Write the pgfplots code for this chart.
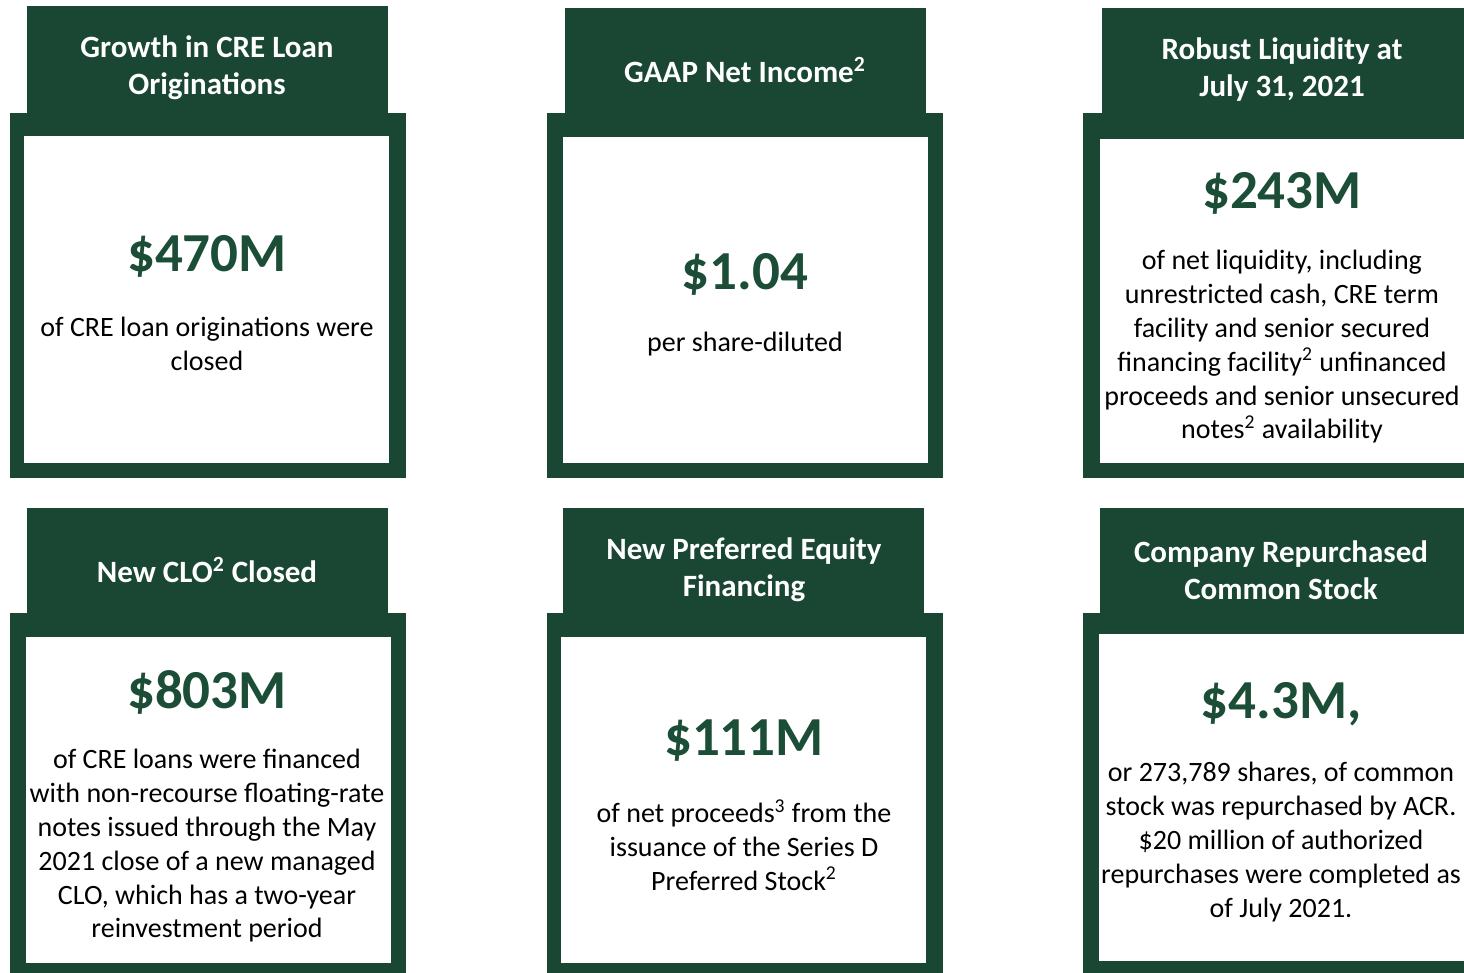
\documentclass[border=0pt]{standalone}
\usepackage{pgfplots}
\pgfplotsset{compat=1.18}
\usepackage{fontspec}
\setmainfont{Carlito}
\definecolor{acrgreen}{RGB}{25,71,51}
\definecolor{numgreen}{RGB}{28,78,55}

\begin{document}
\begin{tikzpicture}
\begin{axis}[
  scale only axis,
  width=732pt, height=486.5pt,
  xmin=0, xmax=1464, ymin=0, ymax=973,
  y dir=reverse,
  hide axis, clip=false,
]
\path (axis cs:0,0) rectangle (axis cs:1464,973);

% header tabs
\fill[acrgreen] (axis cs:27,6)    rectangle (axis cs:388,114);
\fill[acrgreen] (axis cs:565,8)   rectangle (axis cs:926,114);
\fill[acrgreen] (axis cs:1102,8)  rectangle (axis cs:1464,114);
\fill[acrgreen] (axis cs:27,508)  rectangle (axis cs:388,614);
\fill[acrgreen] (axis cs:563,508) rectangle (axis cs:924,614);
\fill[acrgreen] (axis cs:1100,508) rectangle (axis cs:1464,614);
% frames
\fill[acrgreen] (axis cs:10,113)   rectangle (axis cs:406,478);
\fill[acrgreen] (axis cs:547,113)  rectangle (axis cs:943,478);
\fill[acrgreen] (axis cs:1083,113) rectangle (axis cs:1464,478);
\fill[acrgreen] (axis cs:10,613)   rectangle (axis cs:406,973);
\fill[acrgreen] (axis cs:547,613)  rectangle (axis cs:943,973);
\fill[acrgreen] (axis cs:1083,613) rectangle (axis cs:1464,973);
% white panels
\fill[white] (axis cs:24,136)   rectangle (axis cs:389,463);
\fill[white] (axis cs:563,137)  rectangle (axis cs:928,463);
\fill[white] (axis cs:1100,139) rectangle (axis cs:1464,463);
\fill[white] (axis cs:26,637)   rectangle (axis cs:391,963);
\fill[white] (axis cs:561,637)  rectangle (axis cs:926,963);
\fill[white] (axis cs:1099,634) rectangle (axis cs:1464,961);

\tikzset{
  hdr/.style={text=white, font=\fontsize{15.5}{18.5}\selectfont\bfseries, align=center, inner sep=0pt},
  big/.style={text=numgreen, font=\fontsize{27.5}{32}\selectfont\bfseries, inner sep=0pt},
  body/.style={text=black, font=\fontsize{14}{16.9}\selectfont, align=center, inner sep=0pt},
}

% card 1
\node[hdr] at (axis cs:207,68) {Growth in CRE Loan\\Originations};
\node[big] at (axis cs:207,256) {\$470M};
\node[body] at (axis cs:207,344) {of CRE loan originations were\\closed};
% card 2
\node[hdr] at (axis cs:745,70) {GAAP Net Income\textsuperscript{2}};
\node[big] at (axis cs:745,274) {\$1.04};
\node[body] at (axis cs:745,344) {per share-diluted};
% card 3
\node[hdr] at (axis cs:1282,70) {Robust Liquidity at\\July 31, 2021};
\node[big] at (axis cs:1282,193) {\$243M};
\node[body] at (axis cs:1282,347) {of net liquidity, including\\unrestricted cash, CRE term\\facility and senior secured\\financing facility\textsuperscript{2} unfinanced\\proceeds and senior unsecured\\notes\textsuperscript{2} availability};
% card 4
\node[hdr] at (axis cs:207,570) {New CLO\textsuperscript{2} Closed};
\node[big] at (axis cs:207,692) {\$803M};
\node[body] at (axis cs:207,846) {of CRE loans were financed\\with non-recourse floating-rate\\notes issued through the May\\2021 close of a new managed\\CLO, which has a two-year\\reinvestment period};
% card 5
\node[hdr] at (axis cs:744,570) {New Preferred Equity\\Financing};
\node[big] at (axis cs:744,741) {\$111M};
\node[body] at (axis cs:744,845) {of net proceeds\textsuperscript{3} from the\\issuance of the Series D\\Preferred Stock\textsuperscript{2}};
% card 6
\node[hdr] at (axis cs:1281,570) {Company Repurchased\\Common Stock};
\node[big] at (axis cs:1281,704) {\$4.3M,};
\node[body] at (axis cs:1281,842) {or 273,789 shares, of common\\stock was repurchased by ACR.\\\$20 million of authorized\\repurchases were completed as\\of July 2021.};
\end{axis}
\end{tikzpicture}
\end{document}
